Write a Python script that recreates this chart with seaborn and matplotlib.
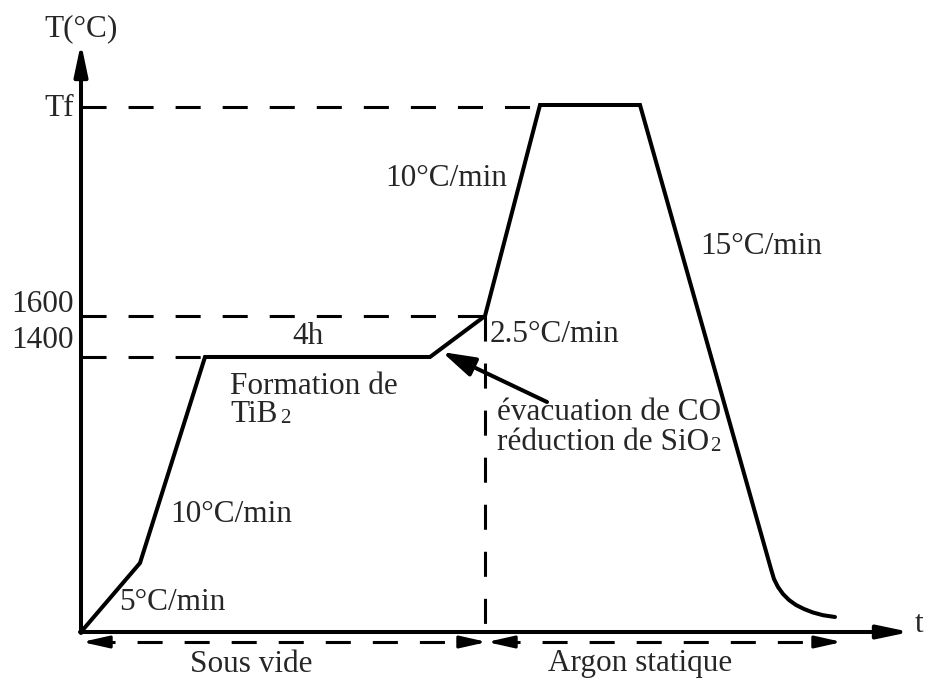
import matplotlib
matplotlib.use("Agg")
import matplotlib.pyplot as plt
import seaborn as sns

sns.set_style("white")
plt.rcParams["font.family"] = ["Liberation Serif", "DejaVu Serif"]

# schematic thermal cycle (x: time, y: temperature, arbitrary schematic units)
t_profile = [0, 59, 124, 349, 404, 459, 559, 690, 693, 697, 702, 708, 715, 723, 732, 742, 754]
T_profile = [0, 69, 275, 275, 316, 527, 527, 63, 53, 45, 38, 32, 27, 23, 19.5, 16.8, 15]

level_labels = ["Tf", "1600", "1400"]
level_values = [525, 316, 275]
level_ends = [459, 404, 124]
level_label_y = [524, 327, 292]

t_switch = 404          # vacuum -> static argon
t_axis_end = 829
T_axis_end = 589

rate_labels = ["5°C/min", "10°C/min", "4h", "2.5°C/min", "10°C/min", "15°C/min"]
rate_x = [91, 89, 227, 409, 365, 680]
rate_y = [29, 117, 295, 298, 453, 386]
rate_ha = ["center", "left", "center", "left", "center", "center"]

atmos_labels = ["Sous vide", "Argon statique"]
atmos_spans = [(1, 406), (406, 761)]
atmos_x = [170, 559]

fig = plt.figure(figsize=(9.31, 6.82), dpi=100)
ax = fig.add_axes([0, 0, 1, 1])
ax.set_xlim(-81, 850)
ax.set_ylim(-50, 632)
ax.axis("off")

FS = 22.5
DASH = (0, (8.2, 7.2))

# dashed reference levels
for lab, val, end, ly in zip(level_labels, level_values, level_ends, level_label_y):
    ax.plot([0, end], [val, val], color="black", lw=2.2, linestyle=DASH)
    ax.text(-7, ly, lab, ha="right", va="center", fontsize=FS)
ax.plot([t_switch, t_switch], [316, 0], color="black", lw=2.2, linestyle=DASH)

# thermal cycle
sns.lineplot(x=t_profile, y=T_profile, sort=False, estimator=None,
             color="black", lw=2.9, ax=ax)
ax.lines[-1].set_solid_joinstyle("miter")

# axes with arrows
head = dict(arrowstyle="-|>,head_length=0.95,head_width=0.2", color="black",
            lw=2.9, mutation_scale=20, shrinkA=0, shrinkB=0)
ax.annotate("", xy=(0, T_axis_end), xytext=(0, -1), arrowprops=head)
ax.annotate("", xy=(t_axis_end, 0), xytext=(-1, 0), arrowprops=head)
ax.text(0, 603, "T(°C)", ha="center", va="center", fontsize=FS)
ax.text(834, 7, "t", ha="left", va="center", fontsize=FS)

# rate annotations
for lab, x, y, ha in zip(rate_labels, rate_x, rate_y, rate_ha):
    ax.text(x, y, lab, ha=ha, va="center", fontsize=FS)

# notes
ax.text(149, 246, "Formation de", ha="left", va="center", fontsize=FS)
tib = ax.text(149, 217, "TiB", ha="left", va="center", fontsize=FS)
ax.annotate("2", xy=(1, 0), xycoords=tib, xytext=(2, 1), textcoords="offset points",
            ha="left", va="bottom", fontsize=15)
ax.text(416, 219, "évacuation de CO", ha="left", va="center", fontsize=FS)
sio = ax.text(416, 189, "réduction de SiO", ha="left", va="center", fontsize=FS)
ax.annotate("2", xy=(1, 0), xycoords=sio, xytext=(1, 1), textcoords="offset points",
            ha="left", va="bottom", fontsize=15)
ax.annotate("", xy=(361, 280), xytext=(466, 230),
            arrowprops=dict(arrowstyle="-|>,head_length=1.0,head_width=0.3",
                            color="black", lw=2.9, mutation_scale=20,
                            shrinkA=0, shrinkB=0))

# atmosphere spans (dashed double arrows)
small = dict(arrowstyle="-|>,head_length=0.8,head_width=0.18", color="black",
             lw=2.2, mutation_scale=20, shrinkA=0, shrinkB=0)
for lab, (a, b), x in zip(atmos_labels, atmos_spans, atmos_x):
    ax.plot([a + 8, b - 8], [-10, -10], color="black", lw=2.2, linestyle=DASH)
    ax.annotate("", xy=(a, -10), xytext=(a + 20, -10), arrowprops=small)
    ax.annotate("", xy=(b, -10), xytext=(b - 20, -10), arrowprops=small)
    ax.text(x, -32, lab, ha="center", va="center", fontsize=FS)

fig.savefig("out.png", dpi=100)
